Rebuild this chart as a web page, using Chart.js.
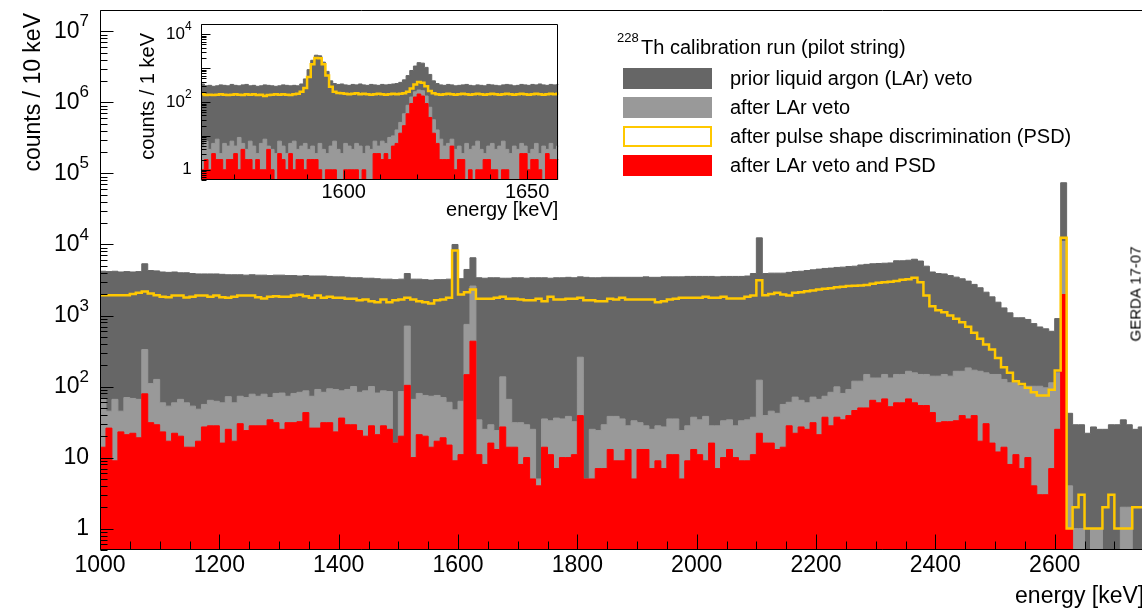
<!DOCTYPE html>
<html lang="en">
<head>
<meta charset="UTF-8">
<title>228Th calibration spectrum</title>
<script src="https://cdn.jsdelivr.net/npm/chart.js@4.4.1/dist/chart.umd.min.js"></script>
<style>
    html, body { margin: 0; padding: 0; background: #fff; overflow: hidden; }
    body { width: 1142px; height: 610px; position: relative; font-family: "Liberation Sans", Arial, Helvetica, sans-serif; color: #000; }
    #main { position: absolute; left: 0; top: 0; }
    #inset { position: absolute; left: 130px; top: 14px; }
    .lg-box { position: absolute; left: 623px; width: 89px; height: 21px; box-sizing: border-box; }
    .lg-text { position: absolute; left: 730px; height: 29px; line-height: 29px; font-size: 20px; white-space: nowrap; }
    .tag { position: absolute; font-size: 15px; white-space: nowrap; transform: rotate(-90deg); transform-origin: center; }
</style>
</head>
<body>
<canvas id="main" width="1160" height="610"></canvas>
<canvas id="inset" width="440" height="216"></canvas>

<div style="position:absolute; left:617px; top:30px; font-size:13px;">228</div>
<div class="lg-text" style="left:641px; top:33px;">Th calibration run (pilot string)</div>
<div class="lg-box" style="top:68px; background:#666666;"></div>
<div class="lg-text" style="top:64px;">prior liquid argon (LAr) veto</div>
<div class="lg-box" style="top:97px; background:#999999;"></div>
<div class="lg-text" style="top:93px;">after LAr veto</div>
<div class="lg-box" style="top:126px; background:#fff; border:2.5px solid #ffc800;"></div>
<div class="lg-text" style="top:122px;">after pulse shape discrimination (PSD)</div>
<div class="lg-box" style="top:155px; background:#ff0000;"></div>
<div class="lg-text" style="top:151px;">after LAr veto and PSD</div>
<div class="tag" style="left:1090px; top:288px; width:90px; text-align:center;">GERDA 17-07</div>

<script>
    // main spectrum: 10 keV bins starting at 1000 keV
    const E0 = 1000;
    const BIN = 10;
    const prior = [
        4200, 4150, 4200, 4100, 4150, 4100, 4150, 5350, 4300, 4250,
        4100, 4050, 4100, 4000, 4000, 3900, 3850, 3850, 3850, 3850,
        3800, 3750, 3750, 3750, 3700, 3750, 3700, 3700, 3650, 3700,
        3700, 3650, 3650, 3600, 3650, 3600, 3600, 3600, 3550, 3500,
        3500, 3450, 3400, 3400, 3350, 3350, 3300, 3250, 3250, 3200,
        3250, 3900, 3250, 3250, 3200, 3150, 3200, 3200, 3250, 10000,
        3300, 4450, 6500, 3400, 3350, 3400, 3400, 3350, 3350, 3400,
        3400, 3350, 3400, 3400, 3400, 3350, 3400, 3400, 3450, 3400,
        3500, 3450, 3400, 3400, 3450, 3450, 3450, 3450, 3450, 3450,
        3450, 3500, 3450, 3450, 3500, 3500, 3500, 3500, 3550, 3550,
        3550, 3550, 3550, 3500, 3550, 3550, 3550, 3550, 3600, 3900,
        12400, 3900, 3950, 3950, 3950, 4050, 4150, 4200, 4300, 4400,
        4500, 4600, 4650, 4750, 4800, 4900, 4950, 5150, 5250, 5350,
        5400, 5450, 5500, 5900, 5900, 6000, 6200, 5850, 4950, 4100,
        3900, 3850, 3650, 3470, 3290, 3050, 2740, 2460, 2130, 1830,
        1540, 1280, 1090, 930, 930, 880, 770, 690, 650, 600,
        905, 74000, 42, 29, 29, 22, 27, 25, 25, 29,
        29, 34, 29, 25, 27
    ];
    const afterLAr = [
        68, 45, 66, 45, 70, 68, 66, 332, 110, 126,
        59, 53, 59, 66, 59, 53, 48, 56, 64, 62,
        59, 72, 59, 73, 70, 78, 73, 78, 70, 80,
        81, 73, 80, 83, 87, 73, 91, 83, 93, 91,
        87, 91, 100, 83, 87, 100, 81, 87, 85, 16,
        85, 710, 66, 80, 75, 73, 75, 70, 60, 47,
        62, 750, 2600, 34, 25, 29, 24, 137, 66, 31,
        31, 29, 25, 5, 35, 33, 36, 35, 38, 32,
        259, 5, 25, 24, 29, 38, 38, 35, 28, 33,
        31, 28, 25, 28, 27, 35, 35, 24, 28, 37,
        34, 38, 28, 28, 33, 34, 28, 33, 34, 37,
        123, 39, 45, 42, 56, 60, 71, 64, 59, 71,
        66, 73, 83, 99, 80, 91, 119, 119, 148, 132,
        132, 148, 132, 148, 148, 164, 156, 148, 148, 140,
        140, 148, 140, 164, 164, 183, 170, 164, 156, 148,
        148, 126, 113, 113, 101, 101, 101, 101, 96, 113,
        156, 11000, 4, 1, 1, 0, 1, 1, 0, 0,
        0, 2, 2, 0, 0
    ];
    const afterPSD = [
        1930, 1930, 1930, 1930, 1930, 2015, 2085, 2175, 2035, 1930,
        1830, 1810, 1915, 1915, 1800, 1830, 1915, 1915, 1830, 1915,
        1810, 1775, 1830, 1915, 1915, 1915, 1810, 1740, 1830, 1870,
        1830, 1830, 1915, 1955, 1870, 1775, 1915, 1775, 1830, 1775,
        1775, 1717, 1717, 1644, 1680, 1592, 1541, 1680, 1541, 1644,
        1680, 1775, 1680, 1590, 1540, 1476, 1640, 1680, 1775, 8222,
        1977, 2133, 2323, 1720, 1720, 1720, 1775, 1830, 1720, 1720,
        1680, 1640, 1640, 1720, 1590, 1830, 1680, 1680, 1720, 1720,
        1775, 1640, 1640, 1590, 1590, 1720, 1680, 1775, 1680, 1680,
        1680, 1680, 1680, 1540, 1592, 1680, 1717, 1775, 1775, 1775,
        1775, 1830, 1775, 1775, 1830, 1740, 1740, 1740, 1830, 1915,
        3145, 1930, 2015, 2085, 1977, 1915, 2085, 2133, 2202, 2250,
        2323, 2380, 2430, 2490, 2550, 2600, 2620, 2650, 2700, 2790,
        2900, 2940, 3000, 3050, 3200, 3250, 3400, 2940, 1910, 1350,
        1190, 1115, 1000, 900, 805, 692, 570, 469, 391, 332,
        253, 187, 156, 119, 109, 96, 83, 75, 75, 90,
        168, 12400, 1, 2, 3, 1, 1, 1, 2, 3,
        1, 1, 1, 2, 2
    ];
    const afterBoth = [
        14, 26, 9, 23, 21, 22, 19, 79, 31, 29,
        23, 17, 22, 20, 14, 14, 17, 27, 28, 28,
        16, 25, 17, 30, 24, 28, 28, 28, 34, 31,
        25, 31, 31, 32, 43, 26, 26, 31, 31, 23,
        36, 29, 29, 24, 20, 28, 21, 28, 25, 16,
        20, 104, 10, 21, 20, 14, 17, 19, 15, 9,
        11, 147, 435, 11, 8, 16, 13, 27, 14, 14,
        8, 10, 5, 4, 14, 11, 7, 10, 10, 11,
        39, 5, 5, 7, 7, 13, 9, 9, 13, 5,
        13, 13, 7, 9, 7, 11, 11, 5, 9, 13,
        11, 9, 16, 7, 10, 13, 10, 9, 9, 11,
        22, 16, 16, 13, 14, 28, 22, 27, 25, 31,
        21, 37, 28, 37, 34, 39, 46, 50, 50, 64,
        59, 67, 52, 59, 59, 67, 59, 54, 54, 43,
        31, 32, 32, 33, 39, 35, 39, 17, 30, 16,
        12, 14, 8, 11, 7, 10, 4, 3, 3, 7,
        25, 1977, 1, 0, 0, 0, 0, 0, 0, 0,
        0, 0, 0, 0, 0
    ];

    // inset: 1 keV bins starting at 1561 keV
    const IN0 = 1561;
    const IN_BIN = 1;
    const insetPrior = [
        340, 300, 310, 290, 300, 320, 310, 300, 330, 310,
        300, 320, 330, 300, 310, 290, 300, 320, 310, 300,
        290, 300, 320, 310, 300, 310, 300, 340, 480, 900,
        1700, 2400, 2300, 1500, 800, 420, 350, 330, 340, 320,
        310, 330, 320, 340, 320, 310, 330, 320, 310, 330,
        320, 330, 340, 350, 380, 450, 600, 850, 1150, 1450,
        1400, 1050, 650, 420, 350, 320, 310, 330, 320, 300,
        310, 320, 330, 310, 300, 320, 310, 300, 330, 320,
        310, 300, 320, 330, 320, 300, 310, 330, 320, 310,
        330, 320, 340, 320, 310, 330, 320, 330
    ];
    const insetPSD = [
        170, 160, 165, 160, 165, 170, 165, 160, 165, 170,
        165, 160, 170, 165, 170, 160, 165, 150, 160, 165,
        170, 165, 170, 165, 160, 170, 175, 200, 260, 550,
        1300, 2000, 1950, 1300, 600, 280, 200, 185, 180, 175,
        170, 175, 180, 170, 175, 170, 165, 170, 175, 170,
        165, 170, 175, 170, 175, 180, 200, 250, 330, 390,
        370, 290, 210, 180, 170, 165, 170, 175, 170, 165,
        170, 175, 170, 165, 170, 175, 170, 165, 170, 175,
        170, 165, 170, 175, 170, 165, 170, 175, 170, 165,
        170, 175, 170, 165, 170, 175, 170, 175
    ];
    const insetLAr = [
        5, 7, 4, 6, 8, 3, 6, 5, 7, 5,
        9, 6, 4, 7, 5, 3, 6, 8, 5, 4,
        3, 7, 5, 3, 6, 7, 4, 5, 6, 4,
        5, 3, 6, 4, 3, 5, 7, 4, 3, 6,
        5, 4, 6, 5, 3, 5, 4, 7, 5, 7,
        6, 9, 10, 15, 25, 45, 80, 140, 200, 225,
        215, 150, 70, 30, 15, 8, 5, 6, 8, 4,
        5, 3, 6, 4, 5, 7, 4, 3, 5, 6,
        4, 5, 7, 4, 3, 5, 4, 6, 5, 3,
        4, 6, 3, 5, 4, 6, 4, 5
    ];
    const insetBoth = [
        1, 2, 1, 3, 2, 2, 1, 2, 2, 3,
        1, 4, 2, 2, 1, 2, 1, 1, 4, 1,
        0, 3, 2, 1, 3, 1, 2, 2, 1, 2,
        2, 2, 1, 0, 1, 1, 1, 0, 0, 1,
        1, 1, 1, 0, 1, 0, 0, 3, 3, 2,
        3, 2, 5, 6, 12, 20, 45, 90, 140, 172,
        150, 90, 35, 12, 6, 2, 2, 2, 5, 1,
        2, 2, 0, 1, 0, 1, 1, 2, 2, 1,
        1, 0, 1, 1, 0, 0, 0, 3, 3, 1,
        2, 2, 1, 0, 3, 2, 2, 2
    ];

    const FONT = '"Liberation Sans", Arial, Helvetica, sans-serif';
    const DARK = '#666666';
    const LIGHT = '#999999';
    const RED = '#ff0000';
    const YELLOW = '#ffc800';

    // histogram -> stepped points at bin edges (empty bins pushed below the axis)
    function histPoints(lo, w, vals) {
        const pts = vals.map((v, i) => ({ x: lo + i * w, y: v > 0 ? v : 1e-3 }));
        pts.push({ x: lo + vals.length * w, y: pts[pts.length - 1].y });
        return pts;
    }

    function filled(label, vals, lo, w, color) {
        return {
            label, data: histPoints(lo, w, vals), stepped: true,
            borderColor: color, backgroundColor: color, borderWidth: 1,
            fill: 'start', pointRadius: 0
        };
    }

    function outline(label, vals, lo, w, color, width) {
        return {
            label, data: histPoints(lo, w, vals), stepped: true,
            borderColor: color, borderWidth: width, fill: false, pointRadius: 0
        };
    }

    // ROOT-like frame: inward ticks, 10^n labels, axis titles
    function drawPow(ctx, d, xRight, yMid, size) {
        ctx.textBaseline = 'middle';
        if (d <= 1) {
            ctx.font = `${size}px ${FONT}`;
            ctx.textAlign = 'right';
            ctx.fillText(d === 0 ? '1' : '10', xRight, yMid);
            return;
        }
        const sup = String(d);
        const supSize = Math.round(size * 0.72);
        ctx.font = `${supSize}px ${FONT}`;
        const sw = ctx.measureText(sup).width;
        ctx.textAlign = 'left';
        ctx.fillText(sup, xRight - sw, yMid - size * 0.42);
        ctx.font = `${size}px ${FONT}`;
        ctx.textAlign = 'right';
        ctx.fillText('10', xRight - sw, yMid);
    }

    const rootAxes = {
        id: 'rootAxes',
        afterDatasetsDraw(chart, args, o) {
            const { ctx, chartArea: a, scales: { x, y } } = chart;
            ctx.save();
            ctx.strokeStyle = '#000';
            ctx.fillStyle = '#000';
            ctx.lineWidth = 1;
            const L = Math.round(a.left) + 0.5, R = Math.round(a.right) - 0.5;
            const T = Math.round(a.top) + 0.5, B = Math.round(a.bottom) - 0.5;
            ctx.beginPath();
            ctx.rect(L, T, R - L, B - T);

            // y ticks (log)
            const d0 = Math.floor(Math.log10(y.min)), d1 = Math.ceil(Math.log10(y.max));
            for (let d = d0; d <= d1; d++) {
                for (let m = 1; m < 10; m++) {
                    const v = m * Math.pow(10, d);
                    if (v < y.min || v > y.max) continue;
                    const py = Math.round(y.getPixelForValue(v)) + 0.5;
                    const len = m === 1 ? o.yMajor : o.yMinor;
                    ctx.moveTo(L, py);
                    ctx.lineTo(L + len, py);
                }
            }
            // x ticks
            const first = Math.ceil(x.min / o.xMinorStep) * o.xMinorStep;
            for (let v = first; v <= x.max; v += o.xMinorStep) {
                const px = Math.round(x.getPixelForValue(v)) + 0.5;
                const major = (v - o.xLabelBase) % o.xStep === 0;
                ctx.moveTo(px, B);
                ctx.lineTo(px, B - (major ? o.xMajor : o.xMinor));
            }
            ctx.stroke();

            // y labels
            for (let d = Math.max(d0, 0); d <= d1; d++) {
                const v = Math.pow(10, d);
                if (v < y.min || v > y.max || d % o.yLabelEvery !== 0) continue;
                drawPow(ctx, d, a.left - o.yPad, y.getPixelForValue(v), o.yFont);
            }
            // x labels
            ctx.font = `${o.xFont}px ${FONT}`;
            ctx.textAlign = 'center';
            ctx.textBaseline = 'middle';
            for (let v = first; v <= x.max; v += o.xMinorStep) {
                if ((v - o.xLabelBase) % o.xStep !== 0) continue;
                ctx.fillText(String(v), x.getPixelForValue(v), o.xLabelY);
            }
            // titles
            ctx.font = `${o.titleFont}px ${FONT}`;
            ctx.textAlign = 'right';
            ctx.fillText(o.xTitle, a.right, o.xTitleY);
            ctx.save();
            ctx.translate(o.yTitleX, o.yTitleTop);
            ctx.rotate(-Math.PI / 2);
            ctx.textAlign = 'right';
            ctx.fillText(o.yTitle, 0, 0);
            ctx.restore();
            ctx.restore();
        }
    };

    function hideAxis(extra) {
        return Object.assign({
            ticks: { display: false },
            grid: { display: false, drawTicks: false },
            border: { display: false }
        }, extra);
    }

    new Chart(document.getElementById('main'), {
        type: 'line',
        data: {
            datasets: [
                outline('after pulse shape discrimination (PSD)', afterPSD, E0, BIN, YELLOW, 2.5),
                filled('after LAr veto and PSD', afterBoth, E0, BIN, RED),
                filled('after LAr veto', afterLAr, E0, BIN, LIGHT),
                filled('prior liquid argon (LAr) veto', prior, E0, BIN, DARK)
            ]
        },
        options: {
            responsive: false,
            animation: false,
            devicePixelRatio: 1,
            events: [],
            layout: { padding: { top: 10, right: 15.8, left: 0, bottom: 0 } },
            plugins: {
                legend: { display: false },
                tooltip: { enabled: false },
                rootAxes: {
                    yMajor: 13, yMinor: 7, yPad: 11, yFont: 23, yLabelEvery: 1,
                    xMinorStep: 50, xStep: 200, xLabelBase: 1000, xMajor: 15, xMinor: 8,
                    xFont: 23, xLabelY: 566, titleFont: 23,
                    xTitle: 'energy [keV]', xTitleY: 597,
                    yTitle: 'counts / 10 keV', yTitleX: 34, yTitleTop: 13
                }
            },
            scales: {
                x: hideAxis({ type: 'linear', min: 1000, max: 2750, afterFit: s => { s.height = 60; } }),
                y: hideAxis({ type: 'logarithmic', min: 0.5, max: 2e7, afterFit: s => { s.width = 100; } })
            }
        },
        plugins: [rootAxes]
    });

    new Chart(document.getElementById('inset'), {
        type: 'line',
        data: {
            datasets: [
                outline('after PSD', insetPSD, IN0, IN_BIN, YELLOW, 2.5),
                filled('after LAr veto and PSD', insetBoth, IN0, IN_BIN, RED),
                filled('after LAr veto', insetLAr, IN0, IN_BIN, LIGHT),
                filled('prior LAr veto', insetPrior, IN0, IN_BIN, DARK)
            ]
        },
        options: {
            responsive: false,
            animation: false,
            devicePixelRatio: 1,
            events: [],
            layout: { padding: { top: 10, right: 11.7, left: 0, bottom: 0 } },
            plugins: {
                legend: { display: false },
                tooltip: { enabled: false },
                rootAxes: {
                    yMajor: 9, yMinor: 5, yPad: 9, yFont: 17, yLabelEvery: 2,
                    xMinorStep: 10, xStep: 50, xLabelBase: 0, xMajor: 9, xMinor: 5,
                    xFont: 20, xLabelY: 178, titleFont: 20,
                    xTitle: 'energy [keV]', xTitleY: 196,
                    yTitle: 'counts / 1 keV', yTitleX: 18, yTitleTop: 19
                }
            },
            scales: {
                x: hideAxis({ type: 'linear', min: 1561, max: 1658.5, afterFit: s => { s.height = 50; } }),
                y: hideAxis({ type: 'logarithmic', min: 0.5, max: 2e4, afterFit: s => { s.width = 70.7; } })
            }
        },
        plugins: [rootAxes]
    });
</script>
</body>
</html>
